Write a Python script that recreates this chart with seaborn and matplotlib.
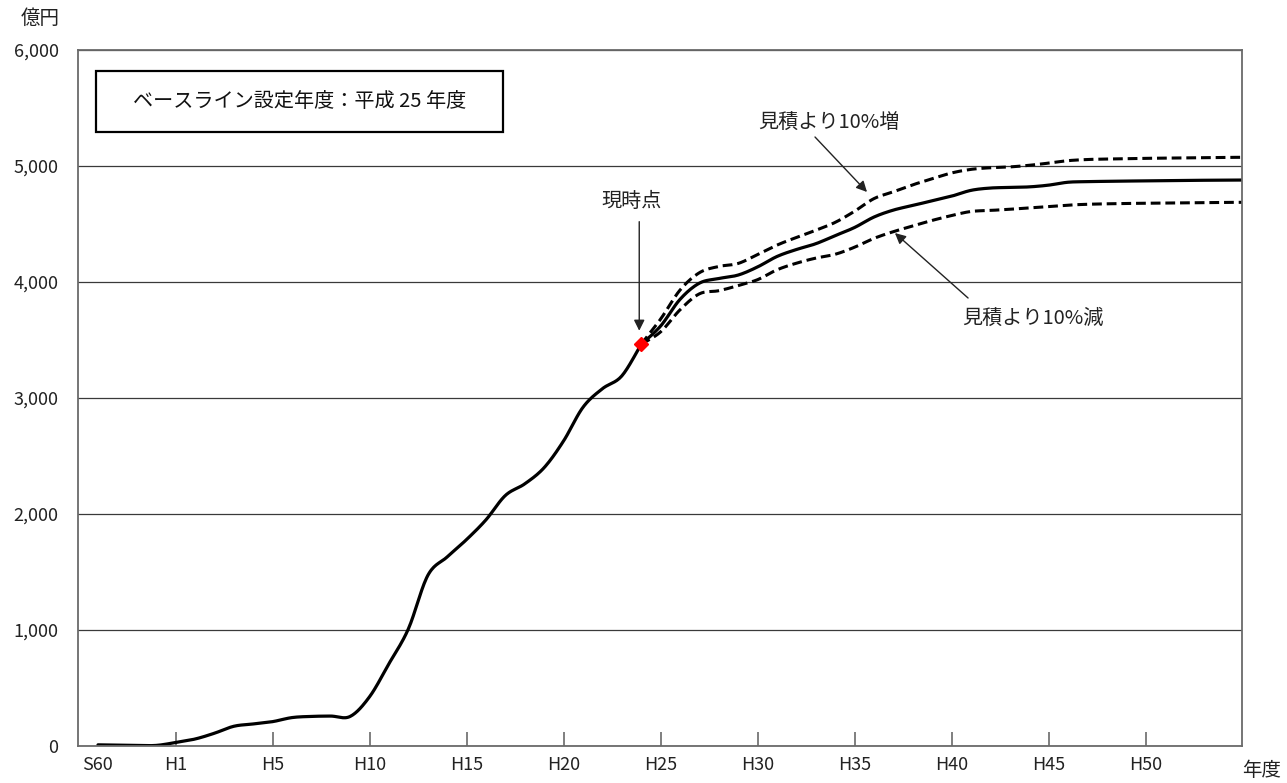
import numpy as np
import pandas as pd
import matplotlib
matplotlib.use("Agg")
import matplotlib.pyplot as plt
from matplotlib.patches import Rectangle
import seaborn as sns

# Fiscal-year slots: slot 0 = S60 ... slot 28 = H24 (current) ... slot 59 = H55
past_slots = list(range(0, 29))
past_values = [10, 8, 5, 5, 30, 60, 110, 170, 190, 210, 245, 255, 258, 255, 425,
               710, 1010, 1470, 1630, 1780, 1950, 2160, 2260, 2400, 2630, 2920,
               3080, 3190, 3463]

future_slots = list(range(28, 60))
future_base = [3463, 3620, 3850, 3990, 4030, 4060, 4130, 4220, 4280, 4330, 4400,
               4470, 4560, 4620, 4660, 4700, 4740, 4790, 4810, 4815, 4820, 4835,
               4860, 4865, 4868, 4870, 4872, 4874, 4876, 4877, 4878, 4879]
future_high = [3463, 3680, 3930, 4080, 4134, 4160, 4237, 4318, 4384, 4446, 4514,
               4610, 4719, 4778, 4838, 4890, 4940, 4971, 4985, 4992, 5006, 5025,
               5046, 5056, 5060, 5063, 5066, 5068, 5070, 5072, 5074, 5075]
future_low = [3463, 3570, 3760, 3898, 3925, 3969, 4020, 4105, 4162, 4206, 4239,
              4300, 4376, 4434, 4483, 4531, 4573, 4608, 4617, 4627, 4639, 4651,
              4663, 4670, 4674, 4677, 4679, 4681, 4683, 4684, 4686, 4687]

current_slot = 28
current_value = 3463

x_tick_slots = [4, 9, 14, 19, 24, 29, 34, 39, 44, 49, 54]
x_tick_labels = ["H1", "H5", "H10", "H15", "H20", "H25", "H30", "H35", "H40", "H45", "H50"]
start_label = "S60"
y_ticks = [0, 1000, 2000, 3000, 4000, 5000, 6000]
y_tick_labels = ["0", "1,000", "2,000", "3,000", "4,000", "5,000", "6,000"]


def smooth(xs, ys, n=16):
    """Bezier smoothing through every point (Catmull-Rom style)."""
    x = np.asarray(xs, float)
    y = np.asarray(ys, float)
    px = np.concatenate([[x[0]], x, [x[-1]]])
    py = np.concatenate([[y[0]], y, [y[-1]]])
    t = np.linspace(0, 1, n, endpoint=False)
    ox, oy = [], []
    for i in range(1, len(px) - 2):
        for p, out in ((px, ox), (py, oy)):
            p0, p1, p2, p3 = p[i - 1], p[i], p[i + 1], p[i + 2]
            c1 = p1 + (p2 - p0) / 6.0
            c2 = p2 - (p3 - p1) / 6.0
            out.extend((1 - t) ** 3 * p1 + 3 * (1 - t) ** 2 * t * c1
                       + 3 * (1 - t) * t ** 2 * c2 + t ** 3 * p2)
    ox.append(x[-1])
    oy.append(y[-1])
    return np.array(ox), np.array(oy)


sns.set_theme(style="white")
plt.rcParams["font.family"] = ["Noto Sans CJK JP", "DejaVu Sans"]

fig = plt.figure(figsize=(12.87, 7.83), dpi=100)
ax = fig.add_axes([78 / 1287, 37 / 783, 1164 / 1287, 696 / 783])

dash = (0, (3.2, 1.6))
for vals in (future_high, future_low):
    sx, sy = smooth(future_slots, vals)
    sns.lineplot(x=sx, y=sy, ax=ax, color="black", linewidth=2.2,
                 linestyle=dash, sort=False, estimator=None)

for xs, vals in ((past_slots, past_values), (future_slots, future_base)):
    sx, sy = smooth(xs, vals)
    sns.lineplot(x=sx, y=sy, ax=ax, color="black", linewidth=2.3,
                 sort=False, estimator=None)

ax.plot([current_slot], [current_value], marker="D", markersize=7,
        color="#ff0000", markeredgecolor="#ff0000", zorder=5)

# axes
ax.set_xlim(-1.03, 58.97)
ax.set_ylim(0, 6000)
ax.set_yticks(y_ticks)
ax.set_yticklabels(y_tick_labels)
ax.set_xticks(x_tick_slots)
ax.set_xticklabels(x_tick_labels)
ax.set_xticks([0], [start_label], minor=True)
ax.set_xlabel("")
ax.set_ylabel("")
ax.grid(axis="y", color="#3a3a3a", linewidth=0.9)
ax.grid(axis="x", visible=False)
ax.set_axisbelow(True)
for side in ("left", "right", "bottom", "top"):
    ax.spines[side].set_visible(True)
    ax.spines[side].set_color("#6a6a6a")
    ax.spines[side].set_linewidth(1.3)
ax.tick_params(axis="x", which="major", direction="in", length=10,
               width=1.2, color="#6a6a6a", pad=7, labelsize=13, labelcolor="#222222")
ax.tick_params(axis="x", which="minor", length=0, pad=7, labelsize=13,
               labelcolor="#222222")
ax.tick_params(axis="y", length=0, pad=14, labelsize=13, labelcolor="#222222")
ax.tick_params(axis="x", which="both", bottom=True)

# unit labels
fig.text(40 / 1287, 1 - 18 / 783, "億円", ha="center", va="center", fontsize=14,
         color="#222222")
fig.text(1262 / 1287, 1 - 770 / 783, "年度", ha="center", va="center", fontsize=14,
         color="#222222")

# baseline box
bx0, bx1 = 0.0152, 0.365
by0, by1 = 0.8826, 0.970
ax.add_patch(Rectangle((bx0, by0), bx1 - bx0, by1 - by0, transform=ax.transAxes,
                       facecolor="white", edgecolor="black", linewidth=1.6, zorder=6))
ax.text((bx0 + bx1) / 2, (by0 + by1) / 2, "ベースライン設定年度：平成 25 年度",
        transform=ax.transAxes, ha="center", va="center", fontsize=14.5,
        color="#111111", zorder=7)

arrow = dict(arrowstyle="-|>", color="#222222", lw=1.0,
             mutation_scale=16, shrinkA=0, shrinkB=0)

ax.text(27.5, 4690, "現時点", ha="center", va="center", fontsize=14.5, color="#222222")
ax.annotate("", xy=(27.9, 3580), xytext=(27.9, 4520), arrowprops=arrow)

ax.text(37.7, 5371, "見積より10%増", ha="center", va="center", fontsize=14.5,
        color="#222222")
ax.annotate("", xy=(39.64, 4776), xytext=(36.96, 5250), arrowprops=arrow)

ax.text(48.2, 3690, "見積より10%減", ha="center", va="center", fontsize=14.5,
        color="#222222")
ax.annotate("", xy=(41.08, 4422), xytext=(44.85, 3862), arrowprops=arrow)

fig.savefig("out.png", dpi=100, facecolor="white")
